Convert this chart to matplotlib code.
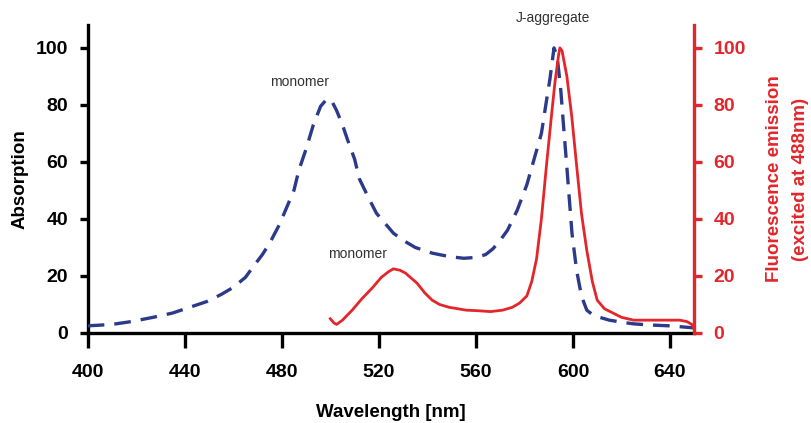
import numpy as np
import matplotlib
matplotlib.use('Agg')
import matplotlib.pyplot as plt

# absorption spectrum (dashed, left axis)
abs_nm = [400, 410, 418, 427, 435, 442, 449, 455, 460, 465, 468, 472, 475, 479, 482,
          485, 487, 490, 493, 496, 498.5, 500.5, 502.6, 505, 507, 510, 512, 516, 519,
          523, 526, 530, 535, 542, 549, 555, 560, 564, 567, 570, 573, 577, 581, 585,
          587, 589, 590.5, 592.2, 593.5, 595, 596, 597.5, 599.6, 601.5, 603.5, 605.7,
          608, 611, 615, 620, 625, 632, 640, 647, 650]
abs_val = [2.5, 3, 4, 5.5, 7, 9, 11, 13.5, 16, 19.5, 23, 27.5, 31.5, 38, 44,
           50, 57, 64.5, 73, 79.5, 82, 81.5, 78, 73, 68, 61, 54, 47, 42,
           38, 35, 32.5, 30, 28, 26.8, 26.2, 26.5, 27.5, 29.5, 32.5, 36, 43, 52, 64,
           70, 81, 89, 100, 97, 85, 74, 58, 35, 22, 13, 8,
           6.5, 5.5, 4.5, 3.8, 3.2, 2.8, 2.5, 2, 1.8]

# fluorescence emission (solid, right axis)
fl_nm = [500, 501.5, 502.6, 505, 509, 513, 517.5, 521, 524, 526, 528.7, 531, 533,
         535.7, 539, 542, 545, 549, 556, 561, 566, 571, 575, 578, 581, 583, 585,
         587, 589, 591, 592.6, 594, 594.6, 595.5, 597.5, 599.5, 601.6, 603.5,
         605.7, 608, 610, 613, 616.5, 620, 625, 632, 639, 644, 647, 649, 650]
fl_val = [5, 3.5, 3, 4.5, 8, 12, 16, 19.5, 21.5, 22.5, 22, 21, 19.5,
          17.5, 14, 11.5, 10, 9, 8, 7.8, 7.5, 8, 9, 10.5, 13, 18, 26,
          40, 58, 75, 88, 97, 100, 99, 90, 76, 58, 42,
          29, 18, 11.5, 8.5, 7, 5.5, 4.5, 4.5, 4.5, 4.5, 4, 3, 1.5]

blue = '#2b3a8a'
red = '#e3262b'
fam = ['Liberation Sans Narrow', 'Liberation Sans']

fig = plt.figure(figsize=(8.12, 4.23), dpi=100)
ax = fig.add_axes([0.108, 0.2128, 0.747, 0.728])
ax2 = ax.twinx()

ax.plot(abs_nm, abs_val, color=blue, lw=2.4, dashes=(5, 3), zorder=3)
ax2.plot(fl_nm, fl_val, color=red, lw=2.0, zorder=2)

ax.set_xlim(400, 650)
ax.set_ylim(0, 108)
ax2.set_ylim(0, 108)
ax.set_xticks([400, 440, 480, 520, 560, 600, 640])
ax.set_yticks([0, 20, 40, 60, 80, 100])
ax2.set_yticks([0, 20, 40, 60, 80, 100])

for a in (ax, ax2):
    a.spines['top'].set_visible(False)
    for s in a.spines.values():
        s.set_linewidth(2.4)
ax.spines['right'].set_visible(False)
ax2.spines['left'].set_visible(False)
ax2.spines['bottom'].set_visible(False)
ax2.spines['right'].set_color(red)

ax.tick_params(axis='x', direction='out', length=11, width=2.4, pad=11)
ax.tick_params(axis='y', direction='out', length=6, width=2.4, pad=8)
ax2.tick_params(direction='out', length=6, width=2.4, pad=8, colors=red)
for lbl in ax.get_xticklabels() + ax.get_yticklabels() + ax2.get_yticklabels():
    lbl.set_fontsize(14)
    lbl.set_fontfamily(fam)
    lbl.set_fontweight('bold')

ax.set_xlabel('Wavelength [nm]', fontsize=13.5, labelpad=17, family=fam, weight='bold')
ax.set_ylabel('Absorption', fontsize=13.5, labelpad=5, family=fam, weight='bold')
ax2.set_ylabel('Fluorescence emission\n(excited at 488nm)', fontsize=13.5,
               color=red, labelpad=14, linespacing=1.7, family=fam, weight='bold')

note = dict(fontsize=10, color='#333333', family='Liberation Sans', ha='center')
ax.text(487.4, 86.5, 'monomer', **note)
ax.text(511.3, 26.3, 'monomer', **note)
ax.text(591.8, 109, 'J-aggregate', clip_on=False, **note)

fig.savefig('out.png', dpi=100)
